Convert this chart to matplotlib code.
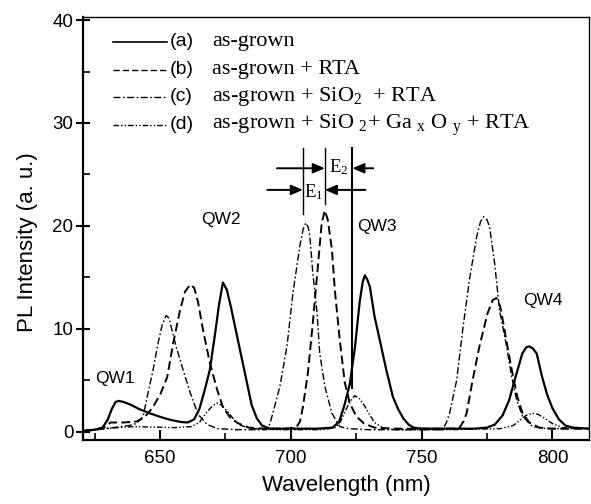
import matplotlib
matplotlib.use("Agg")
import matplotlib.pyplot as plt

# PL spectra (wavelength in nm, intensity in a.u.)
wl_a = [621, 625, 628, 630, 631.5, 633, 634, 636, 639, 642, 646, 650, 654, 658, 660.5, 663,
        665, 667, 669, 671, 672.5, 674, 675.5, 677, 679, 681, 683, 685, 687, 689, 692, 700,
        710, 716, 718.5, 720.5, 722.5, 724.5, 726.3, 727.5, 728.3, 729.2, 730.2, 732, 734,
        736.5, 739, 741, 743, 745, 747, 750, 760, 770, 775, 778, 781, 783.5, 786, 788.5,
        790, 791.2, 792.5, 794, 796, 798, 800, 802.5, 805, 808, 814]
pl_a = [0.1, 0.2, 0.4, 1.2, 2.2, 2.9, 3.0, 2.9, 2.6, 2.2, 1.8, 1.45, 1.15, 0.95, 0.9, 1.2,
        2.2, 4.0, 6.0, 9.5, 12.3, 14.5, 13.8, 12.2, 9.8, 7.4, 5.0, 2.6, 1.3, 0.6, 0.3, 0.3,
        0.3, 0.4, 1.0, 2.6, 4.6, 8.2, 12.6, 14.6, 15.2, 14.8, 14.1, 11.2, 8.9,
        6.0, 3.4, 2.2, 1.3, 0.7, 0.4, 0.3, 0.3, 0.3, 0.4, 0.7, 1.6, 3.1, 5.4, 7.6,
        8.2, 8.3, 8.1, 7.6, 5.4, 3.6, 2.3, 1.2, 0.6, 0.4, 0.3]

wl_b = [621, 626, 629, 631, 636, 641, 644, 647, 650, 652.7, 655, 657.6, 659.5, 661.5, 663,
        664.5, 666.4, 669, 671.8, 674, 677, 680, 684, 690, 698, 702, 703.5, 704.6, 706.5,
        708.4, 710.3, 711.8, 713, 714.1, 715.7, 716.8, 718.7, 720.6, 722.5, 725, 728, 732,
        740, 755, 762, 764.5, 766, 767.2, 769.5, 772.1, 775.2, 777.2, 778.6, 780, 781,
        782.8, 784.7, 786.6, 788.6, 791.2, 795, 800, 814]
pl_b = [0.1, 0.2, 0.5, 0.9, 0.9, 1.0, 1.4, 2.3, 3.6, 5.3, 8.6, 11.8, 13.6, 14.3, 14.0,
        12.6, 9.9, 6.7, 4.1, 2.4, 1.3, 0.8, 0.4, 0.3, 0.3, 0.4, 1.0, 2.4, 5.7,
        10.6, 16.0, 20.3, 21.5, 20.6, 17.7, 13.8, 8.9, 4.8, 2.8, 1.5, 0.8, 0.4,
        0.3, 0.3, 0.3, 0.4, 1.0, 1.8, 5.0, 8.3, 11.5, 12.8, 13.0, 12.2, 10.9,
        8.3, 5.7, 3.4, 1.8, 0.9, 0.4, 0.3, 0.3]

wl_c = [621, 626, 632, 638, 641, 643.5, 645.4, 647.3, 649.2, 650.8, 652.3, 653.5, 654.2,
        656.1, 658.8, 661.5, 664.5, 668, 672, 680, 688, 690.8, 692, 693.1, 695.8, 698.5,
        700.8, 703.4, 704.7, 705.7, 706.6, 707.3, 708.4, 710, 711, 713, 715.7, 718.7, 722,
        730, 750, 756, 758, 759.5, 760.7, 763.4, 765.7, 768.3, 771, 772.5, 773.7, 775, 776,
        777.9, 779.8, 782.5, 784.4, 786.3, 788.6, 792.4, 798, 814]
pl_c = [0.1, 0.2, 0.4, 0.6, 0.8, 1.5, 3.8, 6.0, 8.6, 10.4, 11.3, 11.0, 10.2,
        8.3, 6.0, 3.8, 1.7, 0.7, 0.3, 0.2, 0.2, 0.2, 0.8, 1.8, 4.4, 8.3,
        13.5, 18.0, 19.7, 20.3, 19.9, 18.9, 15.4, 11.6, 7.7, 4.4, 1.8, 0.5, 0.3,
        0.2, 0.2, 0.2, 0.2, 0.9, 1.8, 5.0, 9.9, 14.8, 18.9, 20.4, 20.9, 20.6, 19.9,
        16.4, 11.8, 8.3, 5.4, 3.1, 1.5, 0.5, 0.3, 0.3]

wl_d = [621, 628, 640, 655, 662, 665, 667.5, 670, 671.8, 673.5, 676, 678.5, 681, 685, 695,
        712, 717, 719, 721, 722.5, 724.4, 726, 728, 730, 732, 735, 740, 760, 780, 785, 788,
        790, 792.4, 794.5, 797, 800, 804, 814]
pl_d = [0.1, 0.3, 0.5, 0.4, 0.5, 0.9, 1.8, 2.5, 2.8, 2.6, 1.9, 1.1, 0.6, 0.3, 0.2,
        0.2, 0.4, 1.0, 2.1, 2.9, 3.5, 3.3, 2.6, 1.7, 0.9, 0.4, 0.2, 0.2, 0.3, 0.6, 1.2,
        1.6, 1.8, 1.7, 1.3, 0.8, 0.4, 0.3]

labels = ["(a)", "(b)", "(c)", "(d)"]
legend_text = ["as-grown",
               "as-grown + RTA",
               r"as-grown + SiO$_2$  + RTA",
               r"as-grown + SiO $_2$+ Ga $_\mathrm{x}$ O $_\mathrm{y}$ + RTA"]

qw_names = ["QW1", "QW2", "QW3", "QW4"]
qw_pos = [(625, 5.2), (665.5, 20.6), (725.5, 19.9), (789, 12.8)]

# peak markers for the E1 / E2 shifts
mark_wl = [704.6, 713.0, 723.5]

plt.rcParams["font.family"] = ["Liberation Sans", "DejaVu Sans"]
plt.rcParams["mathtext.fontset"] = "custom"
plt.rcParams["mathtext.rm"] = "Liberation Serif"
plt.rcParams["mathtext.it"] = "Liberation Serif:italic"

fig = plt.figure(figsize=(5.91, 5.04), dpi=100)
ax = fig.add_axes([0.1404, 0.127, 0.8562, 0.8393])

styles = [dict(lw=1.6, ls="-"),
          dict(lw=1.4, ls=(0, (4.5, 2.2))),
          dict(lw=1.0, ls=(0, (5, 1.8, 1.2, 1.8))),
          dict(lw=1.0, ls=(0, (4, 1.5, 1, 1.5, 1, 1.5)))]
series = [(wl_a, pl_a), (wl_b, pl_b), (wl_c, pl_c), (wl_d, pl_d)]

for (x, y), st in zip(series, styles):
    ax.plot(x, y, color="black", **st)

# legend drawn by hand (mixed sans / serif text)
rows = [0.941, 0.875, 0.811, 0.745]
for ry, st, lab, txt in zip(rows, styles, labels, legend_text):
    ax.plot([0.059, 0.166], [ry, ry], color="black", transform=ax.transAxes,
            lw=1.0 if st["ls"] != "-" else 1.2, ls=st["ls"])
    ax.text(0.171, ry, lab, transform=ax.transAxes, fontsize=14, va="center")
    ax.text(0.255, ry, txt, transform=ax.transAxes, fontsize=16, va="center",
            family="Liberation Serif")

for name, (qx, qy) in zip(qw_names, qw_pos):
    ax.text(qx, qy, name, fontsize=12.5, va="center")

# vertical peak markers and shift arrows
ax.plot([mark_wl[0]] * 2, [21.2, 27.6], color="black", lw=1.0)
ax.plot([mark_wl[1]] * 2, [22.1, 27.6], color="black", lw=1.0)
ax.plot([mark_wl[2]] * 2, [4.3, 27.6], color="black", lw=1.5)

arr = dict(arrowstyle="-|>,head_length=0.7,head_width=0.3", color="black", lw=1.4,
           shrinkA=0, shrinkB=0)
ax.annotate("", xy=(mark_wl[1], 25.6), xytext=(694.7, 25.6), arrowprops=arr)
ax.annotate("", xy=(mark_wl[2], 25.6), xytext=(731.5, 25.6), arrowprops=arr)
ax.annotate("", xy=(mark_wl[0], 23.5), xytext=(691.0, 23.5), arrowprops=arr)
ax.annotate("", xy=(mark_wl[1], 23.5), xytext=(728.5, 23.5), arrowprops=arr)
ax.text((mark_wl[1] + mark_wl[2]) / 2, 25.7, r"E$_2$", fontsize=13.5, ha="center",
        va="center", family="Liberation Serif")
ax.text((mark_wl[0] + mark_wl[1]) / 2, 23.3, r"E$_1$", fontsize=13.5, ha="center",
        va="center", family="Liberation Serif")

ax.set_xlim(620.5, 814)
ax.set_ylim(-0.8, 40.3)
ax.set_xticks([650, 700, 750, 800])
ax.set_xticks([625, 675, 725, 775], minor=True)
ax.set_yticks([0, 10, 20, 30, 40])
ax.set_yticks([5, 15, 25, 35], minor=True)

ax.tick_params(axis="x", which="major", direction="in", length=7, width=1.5,
               labelsize=13.5, pad=7)
ax.tick_params(axis="x", which="minor", direction="in", length=5, width=1.2)
ax.tick_params(axis="y", which="major", direction="inout", length=10, width=1.5,
               labelsize=13.5, pad=2)
ax.tick_params(axis="y", which="minor", direction="in", length=5, width=1.2)

for side in ["left", "bottom"]:
    ax.spines[side].set_linewidth(1.6)
for side in ["top", "right"]:
    ax.spines[side].set_linewidth(1.0)

ax.set_xlabel("Wavelength (nm)", fontsize=16)
ax.set_ylabel("PL Intensity (a. u.)", fontsize=16)
ax.xaxis.set_label_coords(0.52, -0.082)
ax.yaxis.set_label_coords(-0.089, 0.468)

fig.savefig("out.png", dpi=100)
